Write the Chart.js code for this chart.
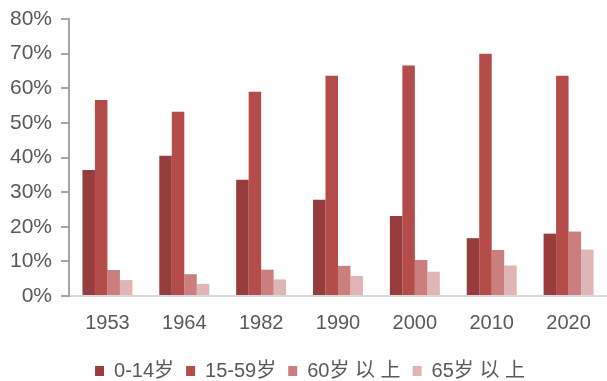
<!DOCTYPE html>
<html>
<head>
<meta charset="utf-8">
<script src="https://cdn.jsdelivr.net/npm/chart.js@4/dist/chart.umd.min.js"></script>
<style>
    html, body { margin: 0; padding: 0; background: #fff; }
    #wrap { width: 607px; height: 381px; }
</style>
</head>
<body>
<div id="wrap"><canvas id="ageChart"></canvas></div>
<script>
// 历次人口普查年龄结构（%）
const years = ['1953', '1964', '1982', '1990', '2000', '2010', '2020'];
const age0to14 = [36.4, 40.5, 33.6, 27.8, 23.1, 16.7, 18.0];
const age15to59 = [56.6, 53.2, 59.0, 63.6, 66.6, 70.0, 63.6];
const age60plus = [7.5, 6.3, 7.6, 8.7, 10.4, 13.3, 18.6];
const age65plus = [4.6, 3.5, 4.8, 5.8, 7.0, 8.8, 13.4];
const yTicks = [0, 10, 20, 30, 40, 50, 60, 70, 80];

const seriesNames = ['0-14岁', '15-59岁', '60岁 以 上', '65岁 以 上'];
const seriesColors = ['#963c3c', '#b44c4a', '#cb7e7e', '#dfb5b5'];
const seriesData = [age0to14, age15to59, age60plus, age65plus];

const fontFamily = '"Liberation Sans", Arial, "Noto Sans CJK SC", sans-serif';
const textColor = '#595959';

// 图例整体略向右移
const legendShift = {
    id: 'legendShift',
    afterLayout(chart) {
        if (chart.legend) chart.legend.left += 13;
    }
};

new Chart(document.getElementById('ageChart'), {
    type: 'bar',
    data: {
        labels: years,
        datasets: seriesData.map((d, i) => ({
            label: seriesNames[i],
            data: d,
            backgroundColor: seriesColors[i],
            borderWidth: 0,
            categoryPercentage: 0.65,
            barPercentage: 1.0
        }))
    },
    options: {
        responsive: true,
        maintainAspectRatio: false,
        animation: false,
        layout: {
            padding: { top: 19, left: 0, right: 0, bottom: -10 }
        },
        plugins: {
            tooltip: { enabled: false },
            legend: {
                position: 'bottom',
                labels: {
                    boxWidth: 9,
                    boxHeight: 10,
                    padding: 12,
                    color: textColor,
                    font: { family: fontFamily, size: 20 }
                }
            }
        },
        scales: {
            x: {
                grid: { display: false, drawTicks: false },
                border: { color: '#d9d9d9', width: 2 },
                ticks: {
                    color: textColor,
                    padding: 15,
                    maxRotation: 0,
                    font: { family: fontFamily, size: 20 }
                },
                afterFit: (scale) => {
                    scale.height = 53;
                    scale.paddingLeft = 0;
                    scale.paddingRight = 0;
                }
            },
            y: {
                min: 0,
                max: 80,
                afterBuildTicks: (scale) => {
                    scale.ticks = yTicks.map(v => ({ value: v }));
                },
                grid: {
                    drawOnChartArea: false,
                    drawTicks: true,
                    tickLength: 8,
                    color: '#a6a6a6',
                    lineWidth: 2
                },
                border: { color: '#a6a6a6', width: 2 },
                ticks: {
                    color: textColor,
                    padding: 9,
                    font: { family: fontFamily, size: 21 },
                    callback: (v) => v + '%'
                },
                afterFit: (scale) => {
                    scale.width = 69;
                    scale.paddingTop = 0;
                    scale.paddingBottom = 0;
                }
            }
        }
    },
    plugins: [legendShift]
});
</script>
</body>
</html>
